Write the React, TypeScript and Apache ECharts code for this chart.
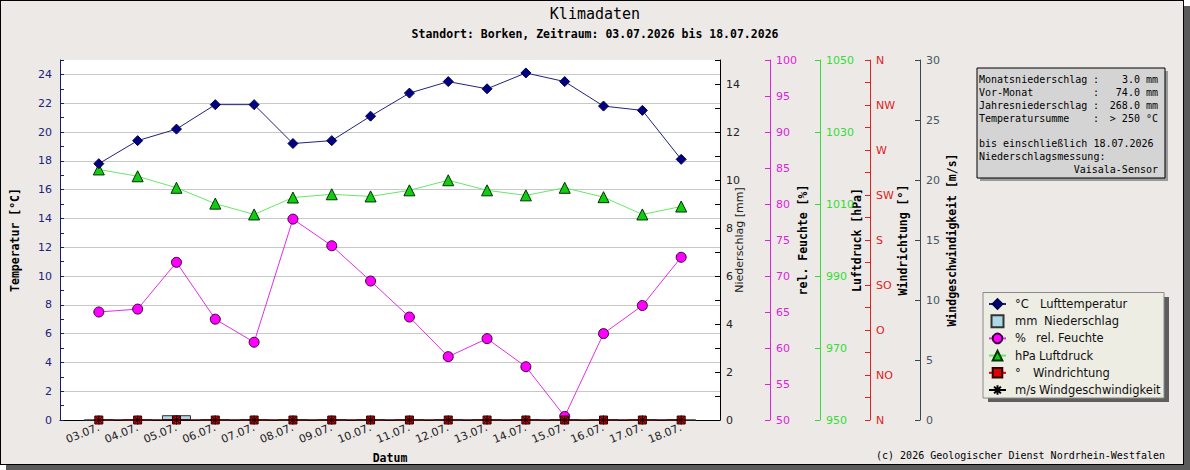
import React, { useEffect, useRef } from "react";
import * as echarts from "echarts";

// Tagesdaten Borken, 03.07.–18.07.2026
const dates = ["03.07.", "04.07.", "05.07.", "06.07.", "07.07.", "08.07.", "09.07.", "10.07.", "11.07.", "12.07.", "13.07.", "14.07.", "15.07.", "16.07.", "17.07.", "18.07."];
const temperature = [17.8, 19.4, 20.2, 21.9, 21.9, 19.2, 19.4, 21.1, 22.7, 23.5, 23.0, 24.1, 23.5, 21.8, 21.5, 18.1];
const precipitation = [0, 0, 0.2, 0, 0, 0, 0, 0, 0, 0, 0, 0, 0, 0, 0, 0];
const humidity = [65.0, 65.4, 71.9, 64.0, 60.8, 77.9, 74.2, 69.3, 64.3, 58.8, 61.3, 57.4, 50.5, 62.0, 65.9, 72.6];
const pressure = [1019.6, 1017.7, 1014.5, 1010.1, 1007.1, 1011.8, 1012.7, 1012.1, 1013.8, 1016.6, 1013.8, 1012.4, 1014.5, 1011.9, 1007.1, 1009.3];
const windDirection = [0, 0, 0, 0, 0, 0, 0, 0, 0, 0, 0, 0, 0, 0, 0, 0];
const windSpeed = [0, 0, 0, 0, 0, 0, 0, 0, 0, 0, 0, 0, 0, 0, 0, 0];

// Achsenbeschriftungen
const dayPositions = [1, 2, 3, 4, 5, 6, 7, 8, 9, 10, 11, 12, 13, 14, 15, 16];
const tempLabels = [0, 2, 4, 6, 8, 10, 12, 14, 16, 18, 20, 22, 24];
const precipLabels = [0, 2, 4, 6, 8, 10, 12, 14];
const pressureTicks = [950, 970, 990, 1010, 1030, 1050];
const windDirLabelValues = [0, 45, 90, 135, 180, 225, 270, 315, 360];
const windDirNames = ["N", "NO", "O", "SO", "S", "SW", "W", "NW", "N"];

// Legende
const seriesNames = ["Lufttemperatur", "Niederschlag", "rel. Feuchte", "Luftdruck", "Windrichtung", "Windgeschwindigkeit"];
const seriesUnits = ["°C", "mm", "%", "hPa", "°", "m/s"];
const unitWidths = [25, 29, 21, 24, 18, 24];

// Infokasten
const infoRows = [
  ["Monatsniederschlag", "3.0 mm"],
  ["Vor-Monat", "74.0 mm"],
  ["Jahresniederschlag", "268.0 mm"],
  ["Temperatursumme", "> 250 °C"],
];
const infoNote = ["bis einschließlich 18.07.2026", "Niederschlagsmessung:"];
const infoSensor = "Vaisala-Sensor";

const MONO = "'DejaVu Sans Mono', monospace";
const SANS = "'DejaVu Sans', sans-serif";

const pairs = (vals: number[]) => vals.map((v, i) => [i + 1, v]);
const plain = (v: number) => String(v);

const nameStyle = {
  fontFamily: MONO,
  fontWeight: "bold" as const,
  fontSize: 11.5,
  color: "#000",
};

export default function App() {
  const ref = useRef<HTMLDivElement>(null);

  useEffect(() => {
    if (!ref.current) return;
    const chart = echarts.init(ref.current, undefined, { renderer: "svg" });

    const rightAxis = (offset: number, color: string, labelColor: string, extra: any) => ({
      type: "value",
      position: "right",
      offset,
      axisLine: { show: true, onZero: false, lineStyle: { color, width: 1 } },
      axisTick: { show: true, inside: true, length: 5, lineStyle: { color } },
      axisLabel: { color: labelColor, fontFamily: SANS, fontSize: 11, margin: 6, formatter: plain },
      splitLine: { show: false },
      nameLocation: "middle",
      nameRotate: 90,
      nameMoveOverlap: false,
      nameTextStyle: nameStyle,
      ...extra,
    });

    const rich: Record<string, any> = {
      n: { fontFamily: SANS, fontSize: 11.5, color: "#111" },
    };
    unitWidths.forEach((w, i) => {
      rich["u" + i] = { fontFamily: SANS, fontSize: 11.5, color: "#111", width: w };
    });

    const txt = (text: string, x: number, y: number, align = "left") => ({
      type: "text",
      x,
      y,
      z: 20,
      style: { text, font: `10px ${MONO}`, fill: "#000", align, verticalAlign: "middle" },
    });

    const infoElements: any[] = [];
    infoRows.forEach((row, i) => {
      const y = 79 + i * 13;
      infoElements.push(txt(row[0], 979, y), txt(":", 1093, y), txt(row[1], 1158, y, "right"));
    });
    infoNote.forEach((t, i) => infoElements.push(txt(t, 979, 143.5 + i * 13)));
    infoElements.push(txt(infoSensor, 1158, 169.5, "right"));

    chart.setOption({
      animation: false,
      title: {
        text: "Klimadaten",
        subtext: "Standort: Borken, Zeitraum: 03.07.2026 bis 18.07.2026",
        left: "center",
        top: 5,
        itemGap: 4,
        padding: 0,
        textStyle: { fontFamily: MONO, fontWeight: "normal", fontSize: 15, lineHeight: 18, color: "#000" },
        subtextStyle: { fontFamily: MONO, fontWeight: "bold", fontSize: 11.5, lineHeight: 14, color: "#000" },
      },
      grid: {
        left: 60,
        right: 470,
        top: 60,
        bottom: 50,
        show: true,
        backgroundColor: "#ffffff",
        borderWidth: 0,
      },
      legend: {
        orient: "vertical",
        left: 983,
        top: 292,
        padding: [5, 5, 5, 5],
        itemWidth: 17,
        itemHeight: 12,
        itemGap: 3.2,
        selectedMode: false,
        textStyle: { fontFamily: SANS, fontSize: 11.5, lineHeight: 14, color: "#111", padding: [0, 0, 0, 4], rich },
        formatter: (name: string) => {
          const i = seriesNames.indexOf(name);
          return `{u${i}|${seriesUnits[i]}}{n|${name}}`;
        },
        data: seriesNames.map((n) =>
          n === "Niederschlag" ? { name: n, icon: "path://M0,0L12,0L12,12L0,12Z" } : { name: n }
        ),
      },
      graphic: [
        // Infokasten
        { type: "rect", z: 5, shape: { x: 980, y: 71, width: 188, height: 110 }, style: { fill: "#9a9a9a" } },
        { type: "rect", z: 6, shape: { x: 977, y: 68, width: 188, height: 110 }, style: { fill: "#d4d4d4", stroke: "#000", lineWidth: 1 } },
        ...infoElements,
        // Legendenrahmen
        { type: "rect", z: 0, shape: { x: 988, y: 297, width: 181, height: 105 }, style: { fill: "#5e5e5e" } },
        { type: "rect", z: 1, shape: { x: 983, y: 292.5, width: 181, height: 105.5 }, style: { fill: "#ededE4", stroke: "#8a8a8a", lineWidth: 1 } },
        // Quelle
        txt("(c) 2026 Geologischer Dienst Nordrhein-Westfalen", 1165, 455, "right"),
      ],
      xAxis: {
        type: "value",
        min: 0,
        max: 17,
        interval: 1,
        name: "Datum",
        nameLocation: "middle",
        nameGap: 32,
        nameMoveOverlap: false,
        nameTextStyle: nameStyle,
        axisLine: { show: true, onZero: false, lineStyle: { color: "#000", width: 1 } },
        axisTick: { show: false },
        splitLine: { show: false },
        axisLabel: {
          customValues: dayPositions,
          rotate: 22,
          margin: 7,
          color: "#222",
          fontFamily: SANS,
          fontSize: 11,
          formatter: (v: number) => dates[v - 1] ?? "",
        },
      },
      yAxis: [
        {
          type: "value",
          position: "left",
          min: 0,
          max: 25,
          interval: 1,
          name: "Temperatur [°C]",
          nameLocation: "middle",
          nameRotate: 90,
          nameGap: 39,
          nameMoveOverlap: false,
          nameTextStyle: nameStyle,
          axisLine: { show: true, onZero: false, lineStyle: { color: "#1a1a6e", width: 1 } },
          axisTick: { show: true, inside: true, length: 4, lineStyle: { color: "#1a1a6e" } },
          axisLabel: { customValues: tempLabels, color: "#22227a", fontFamily: SANS, fontSize: 11, margin: 8 },
          splitLine: { show: false },
        },
        rightAxis(0, "#000", "#222", {
          min: 0,
          max: 15,
          interval: 1,
          name: "Niederschlag [mm]",
          nameGap: 14,
          nameTextStyle: { fontFamily: SANS, fontSize: 11, color: "#222" },
          axisLabel: { customValues: precipLabels, color: "#222", fontFamily: SANS, fontSize: 11, margin: 6 },
        }),
        rightAxis(50, "#dd22dd", "#dd22dd", {
          min: 50,
          max: 100,
          interval: 5,
          name: "rel. Feuchte [%]",
          nameGap: 27,
        }),
        rightAxis(100, "#33dd33", "#33dd33", {
          min: 950,
          max: 1050,
          name: "Luftdruck [hPa]",
          nameGap: 31,
          axisTick: { show: true, inside: true, length: 5, customValues: pressureTicks, lineStyle: { color: "#33dd33" } },
          axisLabel: { customValues: pressureTicks, color: "#33dd33", fontFamily: SANS, fontSize: 11, margin: 6, formatter: plain },
        }),
        rightAxis(150, "#dd2222", "#dd2222", {
          min: 0,
          max: 360,
          interval: 22.5,
          name: "Windrichtung [°]",
          nameGap: 27,
          axisLabel: {
            customValues: windDirLabelValues,
            color: "#dd2222",
            fontFamily: SANS,
            fontSize: 11,
            margin: 6,
            formatter: (v: number) => windDirNames[Math.round(v / 45)],
          },
        }),
        rightAxis(200, "#37474f", "#46575f", {
          min: 0,
          max: 30,
          interval: 5,
          name: "Windgeschwindigkeit [m/s]",
          nameGap: 26,
        }),
        {
          // Gitterlinien alle 2 °C
          type: "value",
          position: "left",
          min: 0,
          max: 25,
          interval: 2,
          axisLine: { show: false },
          axisTick: { show: false },
          axisLabel: { show: false },
          splitLine: { show: true, showMaxLine: false, showMinLine: false, lineStyle: { color: "#c8c8c8", width: 1 } },
        },
      ],
      series: [
        {
          name: "Lufttemperatur",
          type: "line",
          yAxisIndex: 0,
          data: pairs(temperature),
          symbol: "diamond",
          symbolSize: 10,
          lineStyle: { color: "#22227a", width: 1 },
          itemStyle: { color: "#000080", borderColor: "#000050", borderWidth: 1 },
          z: 6,
        },
        {
          name: "Niederschlag",
          type: "bar",
          yAxisIndex: 1,
          data: pairs(precipitation),
          barWidth: 29,
          itemStyle: { color: "#add8e6", borderColor: "#333", borderWidth: 1 },
          z: 3,
        },
        {
          name: "rel. Feuchte",
          type: "line",
          yAxisIndex: 2,
          data: pairs(humidity),
          symbol: "circle",
          symbolSize: 10,
          lineStyle: { color: "#e030e0", width: 1 },
          itemStyle: { color: "#ff00ff", borderColor: "#3a003a", borderWidth: 1 },
          z: 4,
        },
        {
          name: "Luftdruck",
          type: "line",
          yAxisIndex: 3,
          data: pairs(pressure),
          symbol: "triangle",
          symbolSize: 11,
          lineStyle: { color: "#66e866", width: 1 },
          itemStyle: { color: "#11cc11", borderColor: "#003300", borderWidth: 1 },
          z: 4,
        },
        {
          name: "Windrichtung",
          type: "line",
          yAxisIndex: 4,
          data: pairs(windDirection),
          symbol: "rect",
          symbolSize: 8,
          lineStyle: { color: "#dd0000", width: 1 },
          itemStyle: { color: "#dd0000", borderColor: "#300000", borderWidth: 1 },
          z: 7,
        },
        {
          name: "Windgeschwindigkeit",
          type: "line",
          yAxisIndex: 5,
          data: pairs(windSpeed),
          symbol: "path://M4.5,0L4.5,9M0,4.5L9,4.5M1.3,1.3L7.7,7.7M7.7,1.3L1.3,7.7",
          symbolSize: 9,
          lineStyle: { color: "#000", width: 1 },
          itemStyle: { color: "rgba(0,0,0,0)", borderColor: "#000", borderWidth: 1 },
          z: 8,
        },
      ],
    });

    return () => chart.dispose();
  }, []);

  return (
    <div style={{ position: "fixed", left: 0, top: 0, width: 1190, height: 470, background: "#ffffff" }}>
      <div style={{ position: "absolute", left: 6, top: 6, width: 1184, height: 464, background: "#5a5a5a" }} />
      <div
        style={{
          position: "absolute",
          left: 0,
          top: 0,
          width: 1184,
          height: 465,
          border: "1px solid #000",
          boxSizing: "border-box",
          background: "#ece9e7",
        }}
      />
      <div ref={ref} style={{ position: "absolute", left: 0, top: 0, width: 1190, height: 470 }} />
    </div>
  );
}
